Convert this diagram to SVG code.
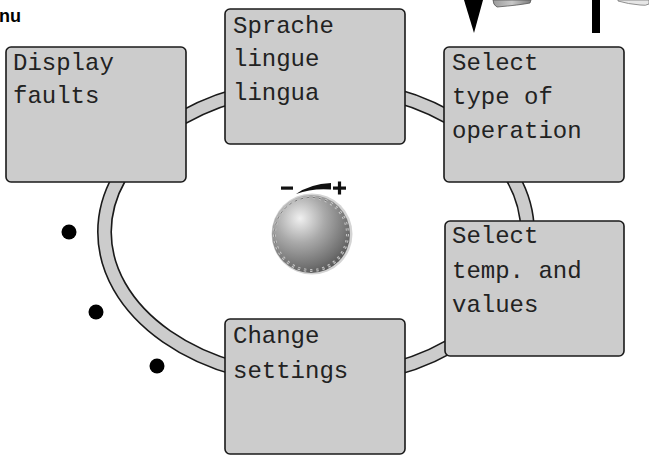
<svg xmlns="http://www.w3.org/2000/svg" width="649" height="456" viewBox="0 0 649 456">
  <defs>
    <style>
      .box { fill: #cccccc; stroke: #1a1a1a; stroke-width: 1.6; }
      .lcd { font-family: "Liberation Mono", "DejaVu Sans Mono", monospace; font-size: 24px; fill: #222222; }
      .dot { fill: #000; }
    </style>
    <radialGradient id="knobShade" cx="0.36" cy="0.3" r="0.78">
      <stop offset="0" stop-color="#f0f0f0"/>
      <stop offset="0.4" stop-color="#aaaaaa"/>
      <stop offset="0.8" stop-color="#717171"/>
      <stop offset="1" stop-color="#505050"/>
    </radialGradient>
    <linearGradient id="capShade" x1="0" y1="0" x2="1" y2="0">
      <stop offset="0" stop-color="#9a9a9a"/>
      <stop offset="0.5" stop-color="#c8c8c8"/>
      <stop offset="1" stop-color="#7c7c7c"/>
    </linearGradient>
  </defs>

  <rect width="649" height="456" fill="#ffffff"/>

  <!-- heading fragment -->
  <text x="-1" y="22" font-family="Liberation Sans, Arial, sans-serif" font-size="18" font-weight="bold" fill="#000">nu</text>

  <!-- top-right parts -->
  <polygon points="464,0 483,0 474,33" fill="#000"/>
  <path d="M493,0 L531,0 L530,3 Q520,5 497,7 Q493,5 493,0 Z" fill="url(#capShade)" stroke="#555" stroke-width="0.8"/>
  <rect x="592" y="0" width="8" height="33" fill="#000"/>
  <path d="M618,0 L649,0 L649,4 Q646,6 640,5 Q628,4 618,1 Z" fill="#e6e6e6" stroke="#777" stroke-width="0.8"/>

  <!-- connectors: the menu ring -->
  <g id="connectors">
    <ellipse cx="316" cy="232" rx="211.5" ry="147.5" fill="none" stroke="#1a1a1a" stroke-width="15"/>
    <ellipse cx="316" cy="232" rx="211.5" ry="147.5" fill="none" stroke="#cccccc" stroke-width="11.8"/>
  </g>

  <!-- scroll dots -->
  <circle class="dot" cx="69" cy="232" r="7.5"/>
  <circle class="dot" cx="96" cy="312" r="7.5"/>
  <circle class="dot" cx="157" cy="366" r="7.5"/>

  <!-- rotary knob -->
  <g id="knob">
    <circle cx="312" cy="234" r="40.5" fill="#d4d4d4"/>
    <circle cx="311" cy="234" r="39" fill="url(#knobShade)"/>
    <circle cx="311" cy="234" r="36.5" fill="none" stroke="#c4c4c4" stroke-width="3" stroke-dasharray="2.4 3.8"/>
    <circle cx="311" cy="234" r="36.5" fill="none" stroke="#555555" stroke-width="0.7" stroke-dasharray="2.4 3.8"/>
    <rect x="281" y="186.5" width="12" height="3.2" fill="#111"/>
    <path d="M296,194 Q310,184 331,183 L331,189.5 Q312,188 296,194 Z" fill="#111"/>
    <rect x="333" y="186.5" width="13" height="3.2" fill="#111"/>
    <rect x="337.9" y="181.5" width="3.2" height="13" fill="#111"/>
  </g>

  <g id="display-faults">
    <rect class="box" x="6" y="47" width="180" height="135" rx="5"/>
    <text class="lcd" x="13" y="70">Display</text>
    <text class="lcd" x="13" y="103">faults</text>
  </g>

  <g id="language">
    <rect class="box" x="225" y="9" width="180" height="135" rx="5"/>
    <text class="lcd" x="233" y="33">Sprache</text>
    <text class="lcd" x="233" y="66">lingue</text>
    <text class="lcd" x="233" y="100">lingua</text>
  </g>

  <g id="operation-type">
    <rect class="box" x="444" y="47" width="180" height="135" rx="5"/>
    <text class="lcd" x="452" y="70">Select</text>
    <text class="lcd" x="452" y="104">type of</text>
    <text class="lcd" x="452" y="138">operation</text>
  </g>

  <g id="temp-values">
    <rect class="box" x="445" y="221" width="179" height="135" rx="5"/>
    <text class="lcd" x="452" y="243">Select</text>
    <text class="lcd" x="452" y="278">temp. and</text>
    <text class="lcd" x="452" y="312">values</text>
  </g>

  <g id="change-settings">
    <rect class="box" x="225" y="319" width="180" height="135" rx="5"/>
    <text class="lcd" x="233" y="343">Change</text>
    <text class="lcd" x="233" y="378">settings</text>
  </g>
</svg>
